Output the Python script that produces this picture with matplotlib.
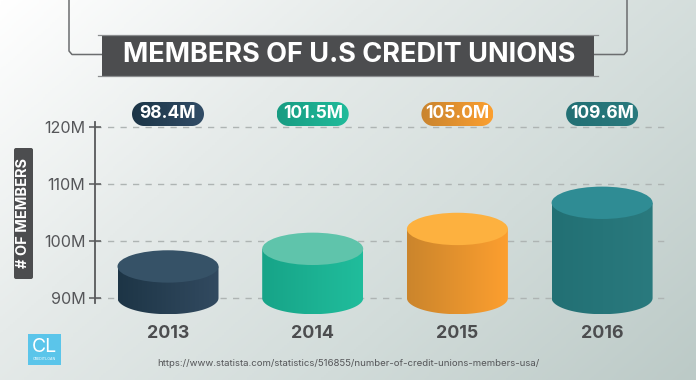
import numpy as np
import matplotlib
matplotlib.use("Agg")
import matplotlib.pyplot as plt
from matplotlib.patches import Ellipse, FancyBboxPatch, PathPatch, Polygon
from matplotlib.path import Path
from matplotlib.colors import LinearSegmentedColormap

years = ["2013", "2014", "2015", "2016"]
members = [98.4, 101.5, 105.0, 109.6]
value_labels = ["98.4M", "101.5M", "105.0M", "109.6M"]
yticks = [90, 100, 110, 120]
ytick_labels = ["90M", "100M", "110M", "120M"]
side_left = ["#1d3546", "#17a488", "#cb852c", "#227074"]
side_right = ["#324a60", "#20bd9c", "#fd9f2f", "#2a7a7e"]
top_colors = ["#365267", "#5fc4ab", "#fdb13f", "#2f8c94"]
pill_left = ["#1c3547", "#189c82", "#c9842e", "#227074"]
pill_right = ["#314c66", "#20bb9b", "#fb9f30", "#2a7a7e"]
title = "MEMBERS OF U.S CREDIT UNIONS"
y_title = "# OF MEMBERS"
source = "https://www.statista.com/statistics/516855/number-of-credit-unions-members-usa/"

W, H = 696, 380
FONT = "Inter"
fig = plt.figure(figsize=(W / 100, H / 100), dpi=100)

# pixel-space backdrop
bg = fig.add_axes([0, 0, 1, 1], zorder=0)
bg.set_xlim(0, W); bg.set_ylim(H, 0); bg.axis("off")
xx, yy = np.meshgrid(np.linspace(0, 1, 300), np.linspace(0, 1, 200))
t = np.clip(0.62 * xx + 0.38 * yy, 0, 1)
bg_cmap = LinearSegmentedColormap.from_list("bg", ["#ffffff", "#e6ebea", "#d2dcda", "#bccac7"])
bg.imshow(t, extent=(0, W, H, 0), cmap=bg_cmap, aspect="auto", zorder=0, vmin=0, vmax=1)

# title frame and box
LINE = "#6b6d6f"
bg.plot([69, 69, 72, 102], [0, 51, 54.5, 54.5], color=LINE, lw=1.1, zorder=2)
bg.plot([627, 627, 624, 594], [0, 51, 54.5, 54.5], color=LINE, lw=1.1, zorder=2)
bg.fill_between([102, 594], 35, 76, color="#4c4d4f", lw=0, zorder=3)
EDGE = "#8b8d8f"
bg.plot([98, 598], [34.5, 34.5], color=EDGE, lw=0.9, zorder=3)
bg.plot([98, 598], [76, 76], color=EDGE, lw=0.9, zorder=3)
bg.text(349, 55.5, title, color="white", fontsize=19.55, fontweight="bold", family=FONT,
        ha="center", va="center", zorder=4)

# y title
bg.add_patch(FancyBboxPatch((14, 148), 19, 131, boxstyle="round,pad=0,rounding_size=2",
                            fc="#4c4d4f", ec="none", zorder=3))
bg.text(23.5, 212.5, y_title, color="white", fontsize=10.5, fontweight="bold", family=FONT,
        rotation=90, ha="center", va="center", zorder=4)

# logo
bg.fill_between([28, 61], 334, 365, color="#5bc5ea", lw=0, zorder=3)
bg.text(44.5, 346.5, "CL", color="white", fontsize=14, family=FONT, ha="center", va="center", zorder=4)
bg.text(44.5, 359, "CREDITLOAN", color="white", fontsize=2.6, family=FONT, ha="center", va="center", zorder=4)

# source
bg.text(348, 363, source, color="#555659", fontsize=6.95, family=FONT, ha="center", va="center", zorder=4)

# chart axes
x0 = 168.0; dx = 144.7
left, right, top_px, bot_px = 94.5, 668.0, 122.0, 318.0
y_per_px = 10 / 56.9
ylo = 90 - (bot_px - 298) * y_per_px
yhi = 120 + (127.5 - top_px) * y_per_px
xlo = (left - x0) / dx
xhi = (right - x0) / dx
ax = fig.add_axes([left / W, 1 - bot_px / H, (right - left) / W, (bot_px - top_px) / H], zorder=1)
ax.patch.set_alpha(0)
ax.set_xlim(xlo, xhi); ax.set_ylim(ylo, yhi)
for s in ["top", "right", "bottom"]:
    ax.spines[s].set_visible(False)
ax.spines["left"].set_color("#58595b"); ax.spines["left"].set_linewidth(1.3)
ax.spines["left"].set_bounds(90 - 5 * y_per_px, yhi)
ax.set_yticks(yticks, ytick_labels, fontsize=11.6, color="#555659", family=FONT)
ax.tick_params(axis="y", direction="inout", length=9, width=1.1, color="#58595b", pad=2)
ax.set_xticks(range(4), years, fontsize=12.8, fontweight="bold", color="#4c4d4f", family=FONT)
ax.tick_params(axis="x", length=0, pad=5)
ax.grid(axis="y", color="#aeb4b3", lw=1.0, ls=(0, (4.5, 4.5)), zorder=1)
ax.set_axisbelow(True)

half_w = 50.5 / dx
semi_h = 16.2 * y_per_px
theta = np.linspace(np.pi, 2 * np.pi, 80)
for i, v in enumerate(members):
    cy_top = v - semi_h
    xs = i + half_w * np.cos(theta)
    ybot = 90 + semi_h * np.sin(theta)
    verts = [(i - half_w, cy_top)] + list(zip(xs, ybot)) + [(i + half_w, cy_top), (i - half_w, cy_top)]
    codes = [Path.MOVETO] + [Path.LINETO] * (len(verts) - 2) + [Path.CLOSEPOLY]
    clip = PathPatch(Path(verts, codes), fc="none", ec="none", transform=ax.transData)
    ax.add_patch(clip)
    cm = LinearSegmentedColormap.from_list(f"c{i}", [side_left[i], side_right[i]])
    im = ax.imshow(np.linspace(0, 1, 128)[None, :], cmap=cm, aspect="auto", zorder=3,
                   extent=(i - half_w, i + half_w, 90 - semi_h, v))
    im.set_clip_path(clip)
    ax.add_patch(Ellipse((i, cy_top), 2 * half_w, 2 * semi_h, fc=top_colors[i], ec="none", zorder=4))
ax.set_xlim(xlo, xhi); ax.set_ylim(ylo, yhi)

# value pills
phi = np.linspace(-np.pi / 2, np.pi / 2, 40)
for i, lab in enumerate(value_labels):
    cx = x0 + dx * i
    x1, x2, y1, y2 = cx - 36, cx + 36, 102, 126
    r = (y2 - y1) / 2
    cy = (y1 + y2) / 2
    px = np.r_[x2 - r + r * np.cos(phi), x1 + r - r * np.cos(phi[::-1])]
    py = np.r_[cy + r * np.sin(phi), cy + r * np.sin(phi[::-1])]
    pill = Polygon(np.c_[px, py], closed=True, fc="none", ec="none", transform=bg.transData)
    bg.add_patch(pill)
    cm = LinearSegmentedColormap.from_list(f"p{i}", [pill_left[i], pill_right[i]])
    im = bg.imshow(np.linspace(0, 1, 64)[None, :], cmap=cm, aspect="auto", zorder=3,
                   extent=(x1, x2, y2, y1))
    im.set_clip_path(pill)
    bg.text(cx, 114, lab, color="white", fontsize=12.6, fontweight="bold", family=FONT,
            ha="center", va="center", zorder=4)
bg.set_xlim(0, W); bg.set_ylim(H, 0)

fig.savefig("out.png", dpi=100)
